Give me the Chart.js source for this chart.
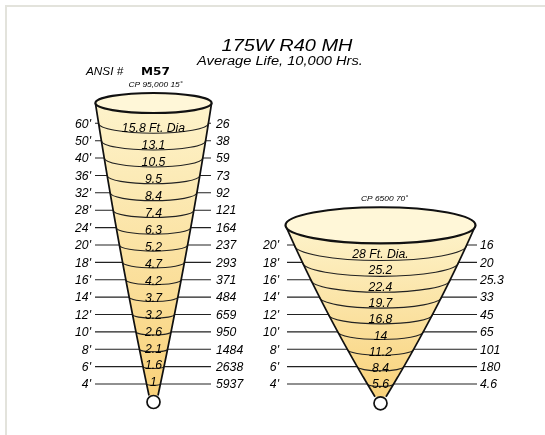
<!DOCTYPE html>
<html><head><meta charset="utf-8">
<script src="https://cdn.jsdelivr.net/npm/chart.js@4.4.1/dist/chart.umd.min.js"></script>
<style>html,body{margin:0;padding:0;background:#fff}canvas{display:block}</style>
</head><body>
<canvas id="c" width="545" height="435"></canvas>
<script>
// ---------- data ----------
const titleText = "175W R40 MH";
const subtitleText = "Average Life, 10,000 Hrs.";
const ansiLabel = "ANSI #";
const ansiCode = "M57";
const cone1Caption = "CP 95,000 15\u02DA";
const cone2Caption = "CP 6500 70\u02DA";

const cone1Distances = ["4'", "6'", "8'", "10'", "12'", "14'", "16'", "18'", "20'", "24'", "28'", "32'", "36'", "40'", "50'", "60'"];
const cone1Diameters = [1, 1.6, 2.1, 2.6, 3.2, 3.7, 4.2, 4.7, 5.2, 6.3, 7.4, 8.4, 9.5, 10.5, 13.1, 15.8];
const cone1Footcandles = [5937, 2638, 1484, 950, 659, 484, 371, 293, 237, 164, 121, 92, 73, 59, 38, 26];
const cone1DiaSuffix = " Ft. Dia";

const cone2Distances = ["4'", "6'", "8'", "10'", "12'", "14'", "16'", "18'", "20'"];
const cone2Diameters = [5.6, 8.4, 11.2, 14, 16.8, 19.7, 22.4, 25.2, 28];
const cone2Footcandles = [4.6, 180, 101, 65, 45, 33, 25.3, 20, 16];
const cone2DiaSuffix = " Ft. Dia.";

// ---------- style / geometry (row units on y, canvas units on x) ----------
const FONT = '"Liberation Sans", Arial, Helvetica, sans-serif';
const CONES = [
  { dist: cone1Distances, dia: cone1Diameters, fc: cone1Footcandles, suffix: cone1DiaSuffix,
    cx: 153.5, shape: [[16.168, 58.1], [8.055, 34.3], [-0.662, 4.5]],
    topRatio: 0.172, sagRatio: 0.18, bulbY: -1.036, bulbR: 6.5, textShift: -2.8,
    lineL: 95, lineR: 211, labL: 91, labR: 216, caption: cone1Caption, capY: 86.5, capX: 155.5 },
  { dist: cone2Distances, dia: cone2Diameters, fc: cone2Footcandles, suffix: cone2DiaSuffix,
    cx: 380.5, shape: [[9.131, 95], [4.948, 60.5], [-0.736, 5.5]],
    topRatio: 0.19, sagRatio: 0.18, bulbY: -1.110, bulbR: 6.5, textShift: -2,
    lineL: 287, lineR: 477, labL: 279, labR: 480, caption: cone2Caption, capY: 200.5, capX: 384.5 }
];

function quad(pts, v) {
  let s = 0;
  for (let i = 0; i < 3; i++) {
    let l = 1;
    for (let j = 0; j < 3; j++) if (j !== i) l *= (v - pts[j][0]) / (pts[i][0] - pts[j][0]);
    s += pts[i][1] * l;
  }
  return s;
}

function txt(ctx, s, x, y, size, opts) {
  opts = opts || {};
  const sx = opts.sx || 1;
  ctx.save();
  ctx.font = (opts.weight || 'italic') + ' ' + size + 'px ' + (opts.family || FONT);
  ctx.fillStyle = opts.color || '#000';
  ctx.textBaseline = 'alphabetic';
  ctx.textAlign = 'left';
  const w = ctx.measureText(s).width * sx;
  const align = opts.align || 'left';
  const x0 = align === 'center' ? x - w / 2 : align === 'right' ? x - w : x;
  const base = opts.baseline ? y : y + 0.358 * size;
  ctx.translate(x0, base);
  ctx.scale(sx, 1);
  ctx.fillText(s, 0, 0);
  ctx.restore();
}

// leader line data built from rows
function leaderData(c) {
  const pts = [];
  c.dist.forEach((d, i) => {
    pts.push({ x: c.lineL, y: i }, { x: c.lineR, y: i }, { x: null, y: null });
  });
  return pts;
}

const conePlugin = {
  id: 'cones',
  beforeDraw(chart) {
    const ctx = chart.ctx;
    ctx.save();
    ctx.fillStyle = '#fff';
    ctx.fillRect(0, 0, chart.width, chart.height);
    ctx.fillStyle = '#e3e3dc';
    ctx.fillRect(5, 5, chart.width - 5, 2);
    ctx.fillRect(5, 5, 2, chart.height - 5);
    ctx.restore();
  },
  afterDatasetsDraw(chart) {
    const ctx = chart.ctx;
    const xs = chart.scales.x, ys = chart.scales.y;
    CONES.forEach(c => {
      const cxp = xs.getPixelForValue(c.cx);
      const topP = ys.getPixelForValue(c.shape[0][0]);
      const botP = ys.getPixelForValue(c.shape[2][0]);
      const hw = py => xs.getPixelForValue(c.cx + quad(c.shape, ys.getValueForPixel(py))) - cxp;
      // body
      ctx.save();
      ctx.beginPath();
      for (let py = topP; py <= botP; py += 1) ctx.lineTo(cxp - hw(py), py);
      ctx.lineTo(cxp - hw(botP), botP);
      ctx.lineTo(cxp + hw(botP), botP);
      for (let py = botP; py >= topP; py -= 1) ctx.lineTo(cxp + hw(py), py);
      ctx.lineTo(cxp + hw(topP), topP);
      ctx.closePath();
      const g = ctx.createLinearGradient(0, topP, 0, botP);
      g.addColorStop(0, '#fdf3cb');
      g.addColorStop(1, '#f9d27b');
      ctx.fillStyle = g;
      ctx.fill();
      // band arcs
      ctx.strokeStyle = '#222';
      ctx.lineWidth = 1.1;
      c.dist.forEach((d, i) => {
        const py = ys.getPixelForValue(i);
        const h = hw(py);
        ctx.beginPath();
        ctx.ellipse(cxp, py, h, h * c.sagRatio, 0, 0, Math.PI);
        ctx.stroke();
      });
      // sides
      ctx.strokeStyle = '#111';
      ctx.lineWidth = 1.7;
      [-1, 1].forEach(sgn => {
        ctx.beginPath();
        for (let py = topP; py <= botP; py += 1) ctx.lineTo(cxp + sgn * hw(py), py);
        ctx.lineTo(cxp + sgn * hw(botP), botP);
        ctx.stroke();
      });
      // top ellipse
      const rt = hw(topP);
      ctx.beginPath();
      ctx.ellipse(cxp, topP, rt, rt * c.topRatio, 0, 0, Math.PI * 2);
      ctx.fillStyle = '#fff7d8';
      ctx.fill();
      ctx.lineWidth = 2.2;
      ctx.strokeStyle = '#111';
      ctx.stroke();
      // bulb
      ctx.beginPath();
      ctx.arc(cxp, ys.getPixelForValue(c.bulbY), c.bulbR, 0, Math.PI * 2);
      ctx.fillStyle = '#fff';
      ctx.fill();
      ctx.lineWidth = 1.7;
      ctx.stroke();
      ctx.restore();
      // values in bands
      const last = c.dia.length - 1;
      c.dia.forEach((v, i) => {
        const py = ys.getPixelForValue(i);
        const sag = hw(py) * c.sagRatio;
        txt(ctx, String(v) + (i === last ? c.suffix : ''), cxp, py + 0.7 * sag + c.textShift, 12, { align: 'center', sx: 1.02 });
      });
      // row labels
      c.dist.forEach((d, i) => {
        const py = ys.getPixelForValue(i);
        txt(ctx, d, xs.getPixelForValue(c.labL), py, 12, { align: 'right', sx: 1.02 });
        txt(ctx, String(c.fc[i]), xs.getPixelForValue(c.labR), py, 12, { align: 'left', sx: 1.02 });
      });
      txt(ctx, c.caption, c.capX, c.capY, 7.5, { align: 'center', sx: 1.12, baseline: true });
    });
    // headings
    txt(ctx, titleText, 287, 51, 16.5, { align: 'center', sx: 1.21, baseline: true });
    txt(ctx, subtitleText, 280, 65, 12, { align: 'center', sx: 1.22, baseline: true });
    txt(ctx, ansiLabel, 86, 75, 10.5, { align: 'left', sx: 1.12, baseline: true });
    txt(ctx, ansiCode, 141, 75, 11, { align: 'left', sx: 1.1, baseline: true, weight: 'bold', family: '"DejaVu Sans", sans-serif' });
  }
};

new Chart(document.getElementById('c'), {
  type: 'scatter',
  data: {
    datasets: CONES.map(c => ({
      data: leaderData(c),
      showLine: true,
      spanGaps: false,
      borderColor: '#222',
      borderWidth: 1.1,
      pointRadius: 0,
      tension: 0
    }))
  },
  options: {
    responsive: false,
    animation: false,
    events: [],
    devicePixelRatio: 1,
    layout: { padding: 0 },
    scales: {
      x: { type: 'linear', min: 0, max: 545, display: false },
      y: { type: 'linear', min: -2.934, max: 22.094, display: false }
    },
    plugins: { legend: { display: false }, tooltip: { enabled: false }, title: { display: false } }
  },
  plugins: [conePlugin]
});
</script>
</body></html>
